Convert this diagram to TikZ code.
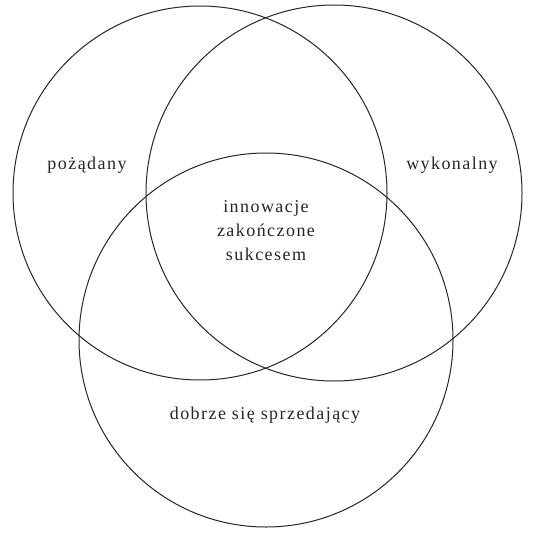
\documentclass[tikz,border=0pt]{standalone}
\usepackage{fontspec}
\setmainfont{Liberation Serif}
\begin{document}
\begin{tikzpicture}[x=1pt,y=-1pt,
  venn/.style={draw=black!85,line width=1pt},
  lbl/.style={font=\fontsize{18}{24}\selectfont\addfontfeature{LetterSpace=8},align=center,inner sep=0pt,text=black!85}]
\useasboundingbox (0,0) rectangle (544,546);
\draw[venn] (200,193) circle[radius=187];
\draw[venn] (334,193) circle[radius=188];
\draw[venn] (266,340) circle[radius=187];
\node[lbl] (a) at (87,165) {pożądany};
\node[lbl] (b) at (452,165) {wykonalny};
\node[lbl] (c) at (266,231) {innowacje\\zakończone\\sukcesem};
\node[lbl] (d) at (265,415) {dobrze się sprzedający};
\end{tikzpicture}
\end{document}
